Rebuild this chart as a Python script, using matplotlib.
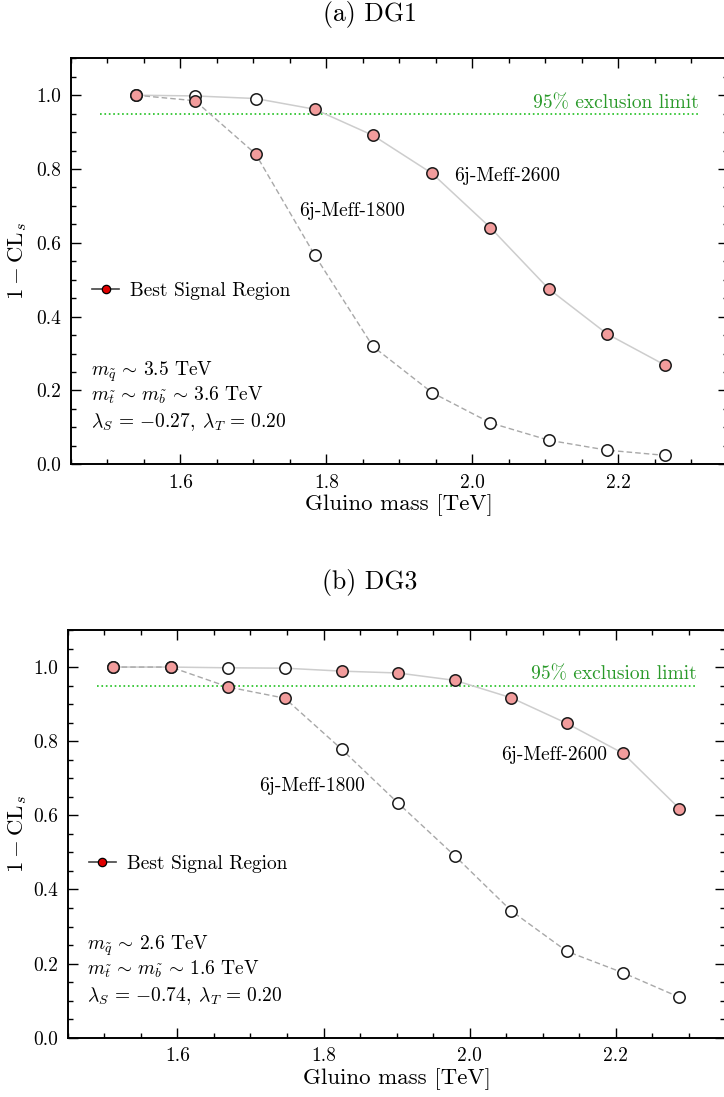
import matplotlib
matplotlib.use("Agg")
import matplotlib.pyplot as plt
from matplotlib.lines import Line2D

plt.rcParams.update({
    "font.family": "serif",
    "font.serif": ["cmr10"],
    "mathtext.fontset": "cm",
    "axes.formatter.use_mathtext": True,
    "axes.unicode_minus": True,
})

# ---------------- data ----------------
mass_dg1 = [1.539, 1.620, 1.703, 1.784, 1.864, 1.945, 2.025, 2.105, 2.185, 2.264]
cls_2600_dg1 = [1.000, 0.998, 0.991, 0.962, 0.891, 0.788, 0.641, 0.475, 0.353, 0.269]
cls_1800_dg1 = [1.000, 0.985, 0.841, 0.567, 0.319, 0.194, 0.112, 0.065, 0.038, 0.024]
best_dg1 = ["1800", "1800", "1800", "2600", "2600", "2600", "2600", "2600", "2600", "2600"]

mass_dg3 = [1.512, 1.591, 1.670, 1.747, 1.825, 1.902, 1.980, 2.057, 2.133, 2.210, 2.287]
cls_2600_dg3 = [1.000, 1.000, 0.998, 0.997, 0.989, 0.984, 0.964, 0.917, 0.848, 0.767, 0.618]
cls_1800_dg3 = [1.000, 1.000, 0.946, 0.916, 0.778, 0.633, 0.490, 0.342, 0.233, 0.175, 0.109]
best_dg3 = ["1800", "1800", "1800", "1800", "2600", "2600", "2600", "2600", "2600", "2600", "2600"]

titles = ["(a) DG1", "(b) DG3"]
params_dg1 = [r"$m_{\tilde{q}}\,\sim\,3.5$ TeV",
              r"$m_{\tilde{t}}\,\sim\,m_{\tilde{b}}\,\sim\,3.6$ TeV",
              r"$\lambda_S\,=\,{-}0.27,\;\lambda_T\,=\,0.20$"]
params_dg3 = [r"$m_{\tilde{q}}\,\sim\,2.6$ TeV",
              r"$m_{\tilde{t}}\,\sim\,m_{\tilde{b}}\,\sim\,1.6$ TeV",
              r"$\lambda_S\,=\,{-}0.74,\;\lambda_T\,=\,0.20$"]
xticks = [1.6, 1.8, 2.0, 2.2]
yticks = [0.0, 0.2, 0.4, 0.6, 0.8, 1.0]
limit = 0.95

# ---------------- figure ----------------
W, H = 724, 1097
fig = plt.figure(figsize=(W / 100, H / 100), dpi=100)

def ax_rect(l, r, t, b):
    return [l / W, 1 - b / H, (r - l) / W, (b - t) / H]

ax1 = fig.add_axes(ax_rect(71, 727.5, 58.3, 464.2))
ax2 = fig.add_axes(ax_rect(67.7, 725.5, 630, 1037.7))

FILL = "#F29C9C"
EDGE = "#1a1a1a"

def draw(ax, mass, s2600, s1800, best, params, lab2600, lab1800, txt_y, ylab_x):
    ax.plot(mass, s2600, "-", color="#cdcdcd", lw=1.1, zorder=2)
    ax.plot(mass, s1800, "--", color="#a8a8a8", lw=1.0, dashes=(4, 2.2), zorder=2)
    # open markers (non-best) first
    for x, a, b, bb in zip(mass, s2600, s1800, best):
        other = a if bb == "1800" else b
        ax.plot([x], [other], "o", ms=8.2, mfc="white", mec=EDGE, mew=1.1, zorder=3)
    for x, a, b, bb in zip(mass, s2600, s1800, best):
        val = b if bb == "1800" else a
        ax.plot([x], [val], "o", ms=8.2, mfc=FILL, mec=EDGE, mew=1.1, zorder=4)

    ax.plot([1.49, 2.31], [limit, limit], ":", color="#1fc01f", lw=1.2, zorder=1)
    ax.text(2.31, limit + 0.016, "95% exclusion limit", color="#2a9a2a",
            fontsize=14, ha="right", va="baseline")

    ax.text(lab2600[0], lab2600[1], "6j-Meff-2600", fontsize=14, ha="left", va="center")
    ax.text(lab1800[0], lab1800[1], "6j-Meff-1800", fontsize=14, ha="left", va="center")

    for t, yy in zip(params, txt_y):
        ax.text(1.477, yy, t, fontsize=14, ha="left", va="baseline")

    h = Line2D([], [], color="#444444", lw=1.2, marker="o", ms=6, mfc="#e00000", mec="black", mew=0.9)
    ax.legend([h], ["Best Signal Region"], loc="center left", bbox_to_anchor=(0.032, 0.427),
              frameon=False, fontsize=14, handlelength=1.4, handletextpad=0.55,
              borderpad=0, borderaxespad=0)

    ax.set_xlim(1.45, 2.35)
    ax.set_ylim(0, 1.1)
    ax.set_xticks(xticks)
    ax.set_yticks(yticks)
    ax.set_xticklabels([f"{v:.1f}" for v in xticks])
    ax.set_yticklabels([f"{v:.1f}" for v in yticks])
    ax.set_xticks([1.45 + 0.05 * i for i in range(19)], minor=True)
    ax.set_yticks([0.05 * i for i in range(23)], minor=True)
    ax.tick_params(which="both", direction="in", top=True, right=True, width=1.0)
    ax.tick_params(which="major", length=7.5, labelsize=14, pad=7)
    ax.tick_params(which="minor", length=3.8)
    for sp in ax.spines.values():
        sp.set_linewidth(1.4)
    ax.set_xlabel("Gluino mass [TeV]", fontsize=16.5, labelpad=2)
    ax.set_ylabel(r"$1-\mathrm{CL}_s$", fontsize=16.5)
    ax.yaxis.set_label_coords(ylab_x, 0.5)

draw(ax1, mass_dg1, cls_2600_dg1, cls_1800_dg1, best_dg1, params_dg1,
     (1.975, 0.78), (1.763, 0.685), [0.239, 0.172, 0.102], -0.064)
draw(ax2, mass_dg3, cls_2600_dg3, cls_1800_dg3, best_dg3, params_dg3,
     (2.043, 0.763), (1.712, 0.680), [0.237, 0.169, 0.099], -0.059)

fig.text(0.5107, 1 - 14 / H, titles[0], fontsize=18.5, ha="center", va="center")
fig.text(0.5107, 1 - 583 / H, titles[1], fontsize=18.5, ha="center", va="center")

fig.savefig("out.png", dpi=100)
